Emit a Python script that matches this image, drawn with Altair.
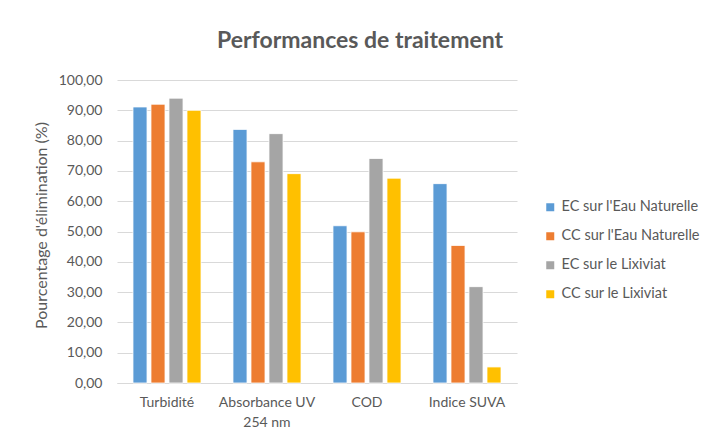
import altair as alt
import pandas as pd

categories = ["Turbidité", "Absorbance UV 254 nm", "COD", "Indice SUVA"]
series = ["EC sur l'Eau Naturelle", "CC sur l'Eau Naturelle", "EC sur le Lixiviat", "CC sur le Lixiviat"]
ec_eau = [91.1, 83.7, 51.9, 65.8]
cc_eau = [92.0, 73.0, 49.9, 45.4]
ec_lix = [94.0, 82.3, 74.1, 31.8]
cc_lix = [90.0, 69.1, 67.6, 5.3]
colors = ["#5B9BD5", "#ED7D31", "#A5A5A5", "#FFC000"]
y_ticks = [0, 10, 20, 30, 40, 50, 60, 70, 80, 90, 100]

rows = []
for s, vals in zip(series, [ec_eau, cc_eau, ec_lix, cc_lix]):
    for c, v in zip(categories, vals):
        rows.append({"cat": c, "serie": s, "val": v})
df = pd.DataFrame(rows)

font = "Lato"
txt = "#595959"

chart = alt.Chart(df).mark_bar(stroke="white", strokeWidth=0.8).encode(
    x=alt.X("cat:N", sort=categories,
            scale=alt.Scale(paddingInner=0.28, paddingOuter=0.14),
            axis=alt.Axis(title=None, labelAngle=0, ticks=False, domainColor="#d9d9d9",
                          labelPadding=12, labelFontSize=14, labelColor=txt, labelFont=font,
                          labelLineHeight=20,
                          labelExpr="datum.value == 'Absorbance UV 254 nm' ? ['Absorbance UV', '254 nm'] : datum.label")),
    xOffset=alt.XOffset("serie:N", sort=series,
                        scale=alt.Scale(paddingInner=0.22, paddingOuter=0.11)),
    y=alt.Y("val:Q", scale=alt.Scale(domain=[0, 100]),
            axis=alt.Axis(values=y_ticks, title="Pourcentage d'élimination (%)",
                          labelExpr="replace(format(datum.value, '.2f'), '.', ',')",
                          domain=False, ticks=False, labelPadding=15,
                          gridColor="#d9d9d9", labelFontSize=14, labelColor=txt, labelFont=font,
                          titleFont=font, titleFontSize=16, titleFontWeight="normal", titleColor=txt,
                          titleX=-76, titleY=145, titleAlign="center", titleBaseline="middle")),
    color=alt.Color("serie:N", sort=series,
                    scale=alt.Scale(domain=series, range=colors),
                    legend=alt.Legend(title=None, orient="none", legendX=426, legendY=120,
                                      symbolType="square", symbolSize=64, symbolStrokeWidth=0,
                                      rowPadding=14, labelOffset=4, labelFontSize=14.5,
                                      labelColor=txt, labelFont=font, labelLimit=300)),
).properties(
    width=400, height=303,
    title=alt.Title("Performances de traitement", anchor="middle", dx=43, offset=20,
                    fontSize=23, font=font, fontWeight="bold", color=txt),
    padding={"left": 109, "top": 72, "right": 183, "bottom": 48},
    autosize=alt.AutoSizeParams(type="none"),
).configure_view(stroke=None)

chart.save("out.html", embed_options={"renderer": "svg", "actions": False})
